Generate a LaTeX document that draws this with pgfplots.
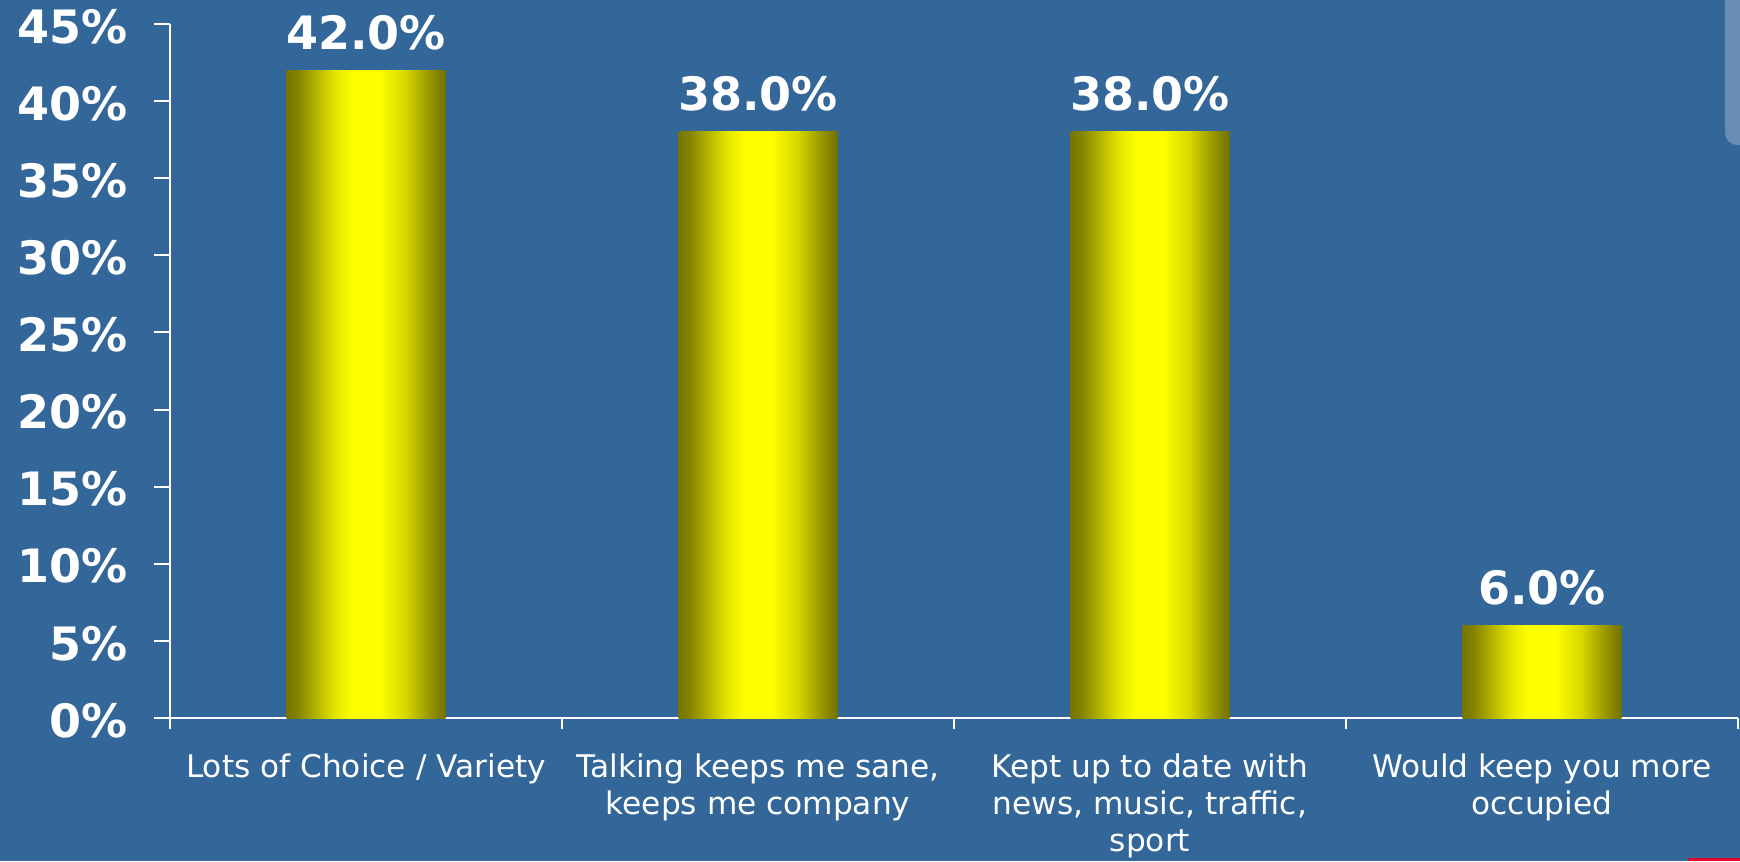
\documentclass[border=0pt]{standalone}
\usepackage{pgfplots}
\pgfplotsset{compat=1.18}
\usepackage{fontspec}
\setmainfont{DejaVu Sans}

\definecolor{bg}{HTML}{336699}
\definecolor{strip}{HTML}{688CB4}
\definecolor{redmark}{HTML}{E0002A}
\definecolor{oliveA}{RGB}{118,118,0}
\definecolor{oliveB}{RGB}{128,128,0}
\definecolor{yelA}{RGB}{228,228,0}
\definecolor{yelB}{RGB}{215,215,0}
\definecolor{oliveC}{RGB}{150,150,0}
\definecolor{oliveD}{RGB}{112,112,0}

% cylinder-like bar fill: dark olive edges, bright yellow centre
\pgfdeclarehorizontalshading{barshade}{100bp}{%
  color(0bp)=(oliveA); color(25bp)=(oliveA); color(28bp)=(oliveB);
  color(40bp)=(yelA); color(46bp)=(yellow); color(54bp)=(yellow);
  color(62.5bp)=(yelB); color(70bp)=(oliveC); color(75bp)=(oliveD);
  color(100bp)=(oliveD)}

\newcommand{\bigbold}{\bfseries\fontsize{11.5}{12}\selectfont}

\begin{document}
\begin{tikzpicture}
\path[use as bounding box] (0,0) rectangle (435pt,215.25pt);
\fill[bg] (0,0) rectangle (435pt,215.25pt);
\fill[strip, rounded corners=3pt] (431.25pt,220pt) -- (431.25pt,179pt) -- (440pt,179pt) -- (440pt,220pt) -- cycle;
\fill[redmark] (422pt,0pt) rectangle (435pt,0.75pt);

\begin{axis}[
  at={(42.5pt,35.75pt)}, anchor=south west,
  scale only axis, width=392pt, height=173.5pt,
  xmin=-0.5, xmax=3.5, ymin=0, ymax=45,
  axis x line*=bottom, axis y line*=left,
  axis line style={white, line width=0.5pt},
  tick align=outside,
  major tick length=4pt, minor tick length=2.8pt,
  xtick={0,1,2,3},
  xticklabels={Lots of Choice / Variety,
               {Talking keeps me sane,\\keeps me company},
               {Kept up to date with\\news, music, traffic,\\sport},
               {Would keep you more\\occupied}},
  major x tick style={draw=none},
  minor xtick={-0.5,0.5,1.5,2.5,3.5},
  minor x tick style={white, line width=0.5pt},
  ytick={0,5,...,45},
  ytick style={white, line width=0.5pt},
  yticklabel={\pgfmathprintnumber[assume math mode=true]{\tick}\%},
  yticklabel style={font=\bigbold, text=white, anchor=east, inner sep=0pt, xshift=-6.5pt, yshift=-0.6pt},
  xticklabel style={font=\fontsize{7.8}{9.25}\selectfont, text=white, align=center, anchor=north, inner sep=0pt, yshift=-4.8pt},
  nodes near coords={\pgfmathprintnumber[fixed,fixed zerofill,precision=1,assume math mode=true]{\pgfplotspointmeta}\%},
  every node near coord/.append style={font=\bigbold, text=white, anchor=base, inner sep=0pt, yshift=5.25pt},
  clip=false,
]
\addplot[ybar, bar width=0.405, bar shift=0pt, draw=none, shade, shading=barshade] coordinates {(0,42)};
\addplot[ybar, bar width=0.405, bar shift=0pt, draw=none, shade, shading=barshade] coordinates {(1,38)};
\addplot[ybar, bar width=0.405, bar shift=0pt, draw=none, shade, shading=barshade] coordinates {(2,38)};
\addplot[ybar, bar width=0.405, bar shift=0pt, draw=none, shade, shading=barshade] coordinates {(3,6)};
\end{axis}
\end{tikzpicture}
\end{document}
